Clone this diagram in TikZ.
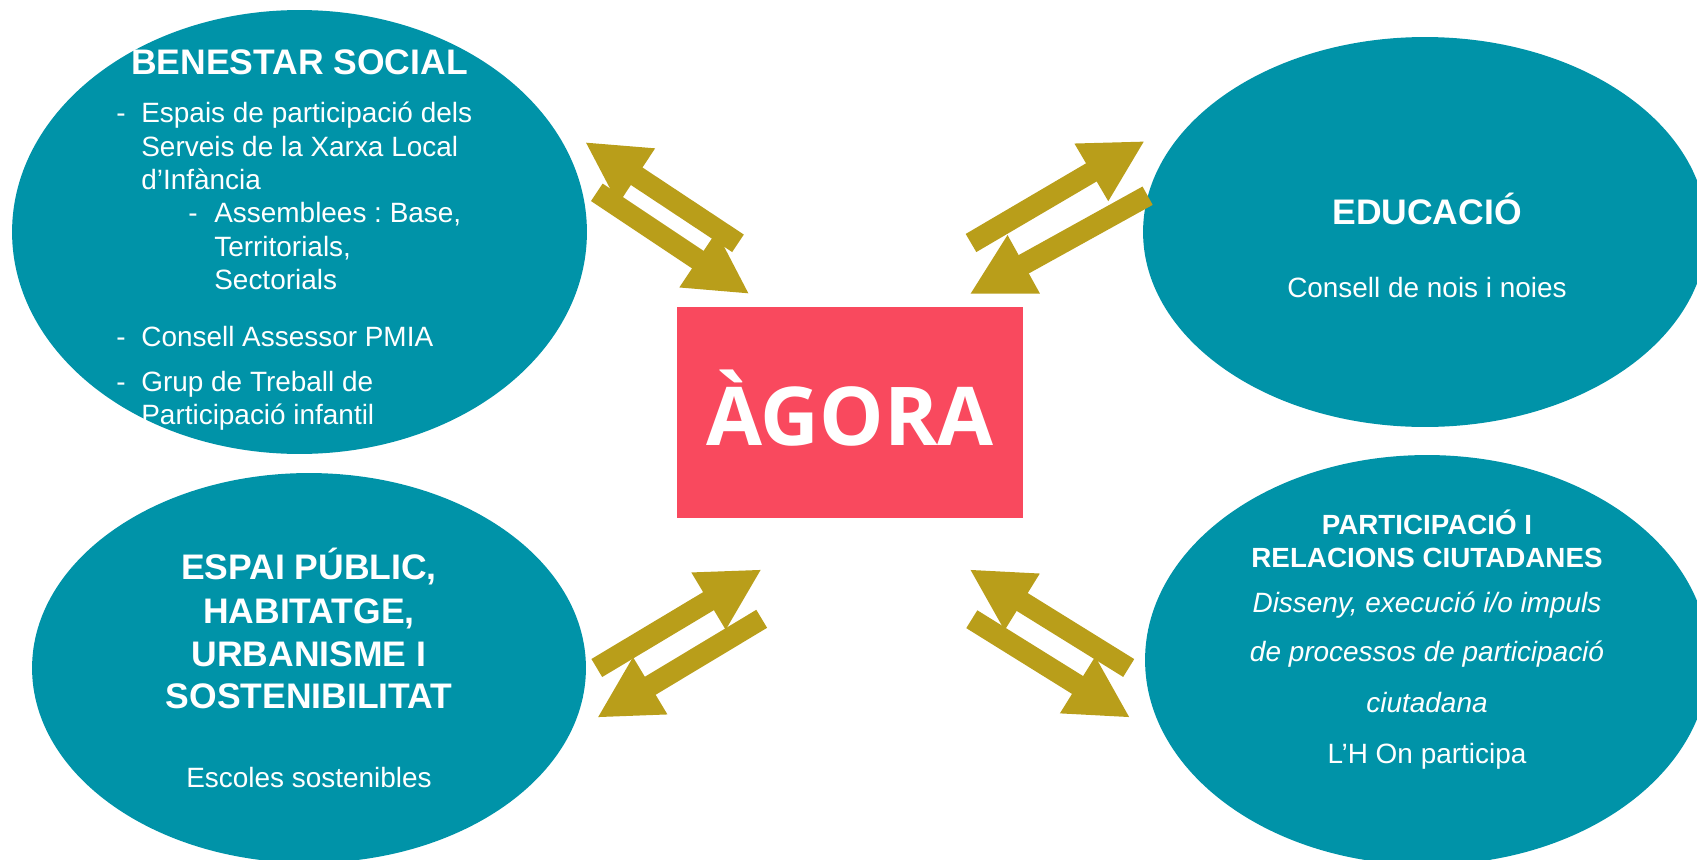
\documentclass[tikz,border=0pt]{standalone}
\usepackage{fontspec}
\setmainfont{Liberation Sans}
\newfontfamily\agorafont{Open Sans}
\usepackage{xcolor}
\usetikzlibrary{arrows.meta,shapes.geometric}
\frenchspacing

\definecolor{bubble}{RGB}{0,147,168}
\definecolor{agorared}{RGB}{249,73,94}
\definecolor{arrowgold}{RGB}{185,158,26}

\begin{document}
\begin{tikzpicture}[x=0.02cm,y=-0.02cm,
    area/.style={ellipse,fill=bubble,inner sep=0pt},
    txt/.style={text=white,inner sep=0pt,font=\fontsize{15.9}{19}\selectfont},
    hd/.style={text=white,inner sep=0pt,font=\fontsize{20.2}{24}\selectfont\bfseries},
    link/.style={arrowgold,line width=0.42cm,-{Triangle[length=1.24cm,width=1.24cm]}}]
    \useasboundingbox (0,0) rectangle (1697,859);
    \clip (0,0) rectangle (1697,859);

    % Areas
    \node[area,minimum width=11.5cm,minimum height=8.88cm] (benestar) at (299.5,232) {};
    \node[area,minimum width=11.28cm,minimum height=7.8cm] (educacio) at (1425,232) {};
    \node[area,minimum width=11.08cm,minimum height=7.8cm] (espai) at (309,668) {};
    \node[area,minimum width=11.28cm,minimum height=8.2cm] (particip) at (1427,660) {};

    % Agora
    \node[fill=agorared,inner sep=0pt,minimum width=6.92cm,minimum height=4.22cm] (agora) at (850,412.5) {};
    \node[anchor=base,text=white,inner sep=0pt,font=\agorafont\bfseries\fontsize{46.2}{50}\selectfont] (agora-t) at (850,445) {ÀGORA};

    % Benestar social
    \node[hd,anchor=base] (ben-t) at (299.5,74) {BENESTAR SOCIAL};
    \node[txt,anchor=base west] (ben-d1) at (116,122) {-};
    \node[txt,anchor=base west] (ben-1a) at (141,122) {Espais de participació dels};
    \node[txt,anchor=base west] (ben-1b) at (141,156) {Serveis de la Xarxa Local};
    \node[txt,anchor=base west] (ben-1c) at (141,189) {d’Infància};
    \node[txt,anchor=base west] (ben-d2) at (188,222) {-};
    \node[txt,anchor=base west] (ben-2a) at (214,222) {Assemblees : Base,};
    \node[txt,anchor=base west] (ben-2b) at (214,256) {Territorials,};
    \node[txt,anchor=base west] (ben-2c) at (214,289) {Sectorials};
    \node[txt,anchor=base west] (ben-d3) at (116,346) {-};
    \node[txt,anchor=base west] (ben-3a) at (141,346) {Consell Assessor PMIA};
    \node[txt,anchor=base west] (ben-d4) at (116,391) {-};
    \node[txt,anchor=base west] (ben-4a) at (141,391) {Grup de Treball de};
    \node[txt,anchor=base west] (ben-4b) at (141,424) {Participació infantil};

    % Educacio
    \node[hd,anchor=base] (edu-t) at (1427,224) {EDUCACIÓ};
    \node[txt,anchor=base] (edu-1) at (1427,297) {Consell de nois i noies};

    % Espai public
    \node[hd,anchor=base] (esp-t1) at (309,579) {ESPAI PÚBLIC,};
    \node[hd,anchor=base] (esp-t2) at (309,623) {HABITATGE,};
    \node[hd,anchor=base] (esp-t3) at (309,666) {URBANISME I};
    \node[hd,anchor=base] (esp-t4) at (309,708) {SOSTENIBILITAT};
    \node[txt,anchor=base] (esp-1) at (309,787) {Escoles sostenibles};

    % Participacio
    \node[txt,anchor=base,font=\fontsize{15.8}{19}\selectfont\bfseries] (par-t1) at (1427,534) {PARTICIPACIÓ I};
    \node[txt,anchor=base,font=\fontsize{15.8}{19}\selectfont\bfseries] (par-t2) at (1427,567) {RELACIONS CIUTADANES};
    \node[txt,anchor=base,font=\fontsize{15.9}{19}\selectfont\itshape] (par-1) at (1427,612) {Disseny, execució i/o impuls};
    \node[txt,anchor=base,font=\fontsize{15.9}{19}\selectfont\itshape] (par-2) at (1427,661) {de processos de participació};
    \node[txt,anchor=base,font=\fontsize{15.9}{19}\selectfont\itshape] (par-3) at (1427,712) {ciutadana};
    \node[txt,anchor=base] (par-4) at (1427,763) {L’H On participa};

    % Arrow ends
    \coordinate (ben-out-s) at (738,243.3);
    \coordinate (ben-out-e) at (585,142);
    \coordinate (ben-in-s) at (596.8,192.3);
    \coordinate (ben-in-e) at (749.4,294);
    \coordinate (edu-out-s) at (971,243);
    \coordinate (edu-out-e) at (1144.8,141);
    \coordinate (edu-in-s) at (1147.6,195.7);
    \coordinate (edu-in-e) at (969.5,294.3);
    \coordinate (esp-out-s) at (761.7,618.8);
    \coordinate (esp-out-e) at (597.1,717.7);
    \coordinate (esp-in-s) at (596.8,668);
    \coordinate (esp-in-e) at (761.7,569.3);
    \coordinate (par-out-s) at (971.8,619.2);
    \coordinate (par-out-e) at (1130.2,717.7);
    \coordinate (par-in-s) at (1128.7,668);
    \coordinate (par-in-e) at (969.5,569.3);

    % Arrows
    \draw[link] (ben-out-s) -- (ben-out-e);
    \draw[link] (ben-in-s) -- (ben-in-e);
    \draw[link] (edu-out-s) -- (edu-out-e);
    \draw[link] (edu-in-s) -- (edu-in-e);
    \draw[link] (esp-out-s) -- (esp-out-e);
    \draw[link] (esp-in-s) -- (esp-in-e);
    \draw[link] (par-out-s) -- (par-out-e);
    \draw[link] (par-in-s) -- (par-in-e);
\end{tikzpicture}
\end{document}
